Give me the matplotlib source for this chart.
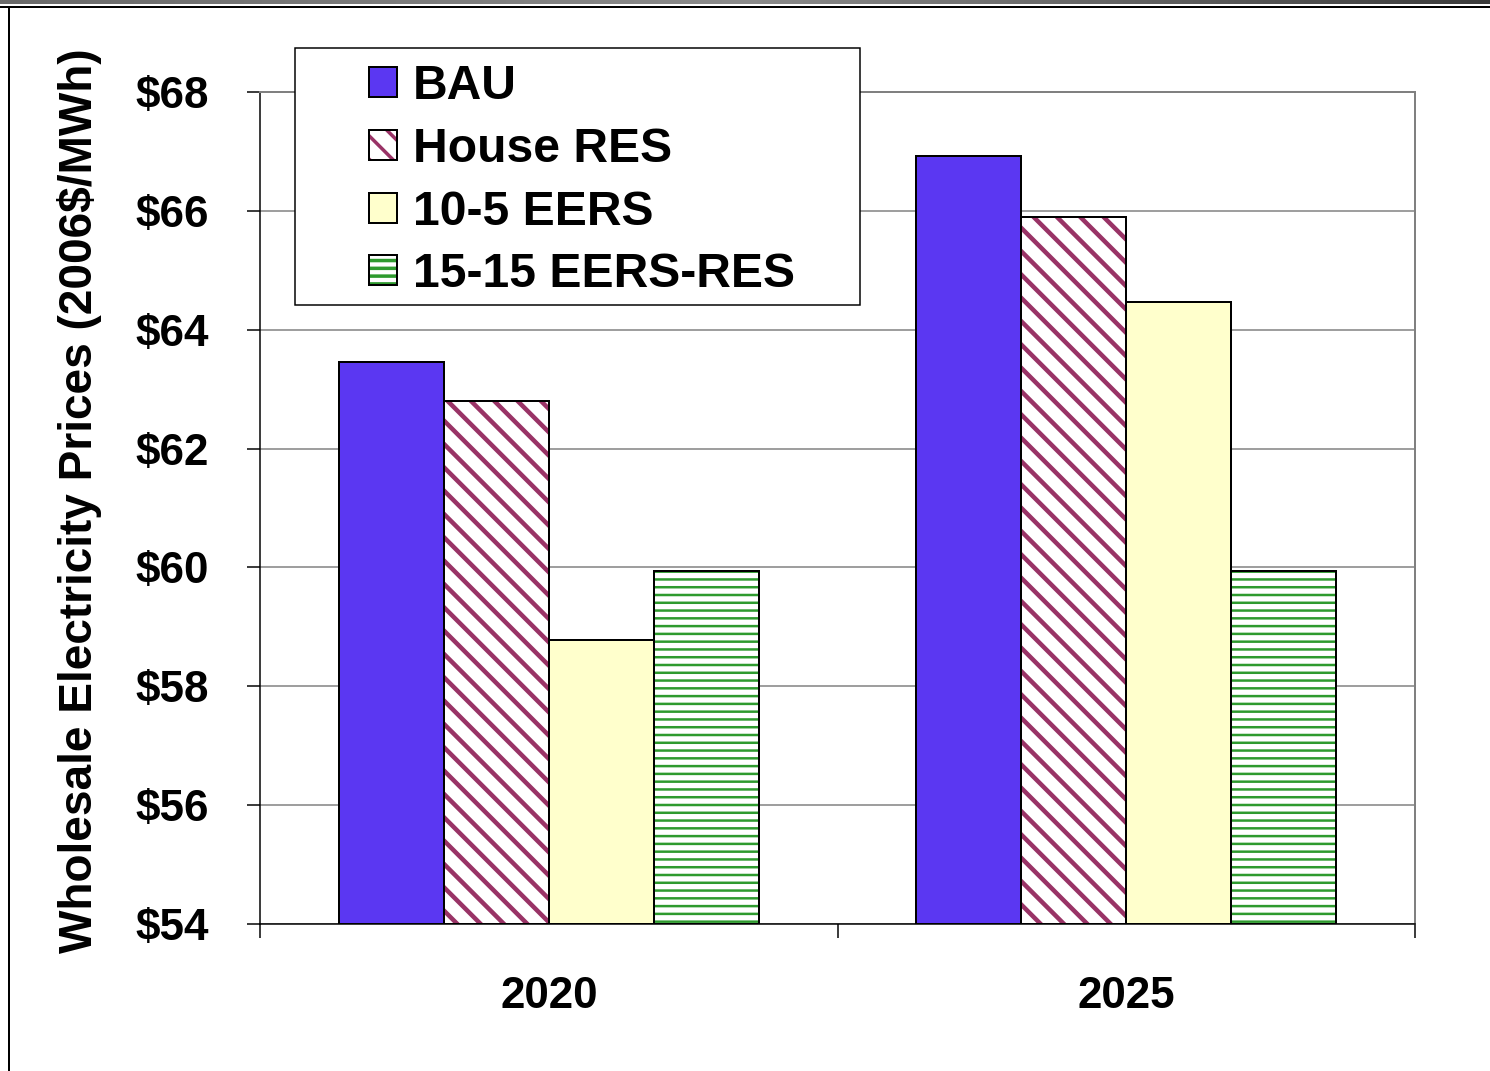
import matplotlib.pyplot as plt
import numpy as np
from matplotlib.patches import Patch, Rectangle
from matplotlib.lines import Line2D
from matplotlib.colors import LinearSegmentedColormap

years = ["2020", "2025"]
scenarios = ["BAU", "House RES", "10-5 EERS", "15-15 EERS-RES"]
bau = [63.46, 66.92]
house_res = [62.80, 65.90]
eers_10_5 = [58.78, 64.47]
eers_res_15_15 = [59.94, 59.94]
y_ticks = [54, 56, 58, 60, 62, 64, 66, 68]

DPI = 140
W, H = 1490, 1071


def pt(px):
    # pixel size -> points at this dpi
    return px * 72 / DPI


plt.rcParams["font.family"] = ["Liberation Sans", "DejaVu Sans"]
plt.rcParams["font.weight"] = "bold"
plt.rcParams["hatch.linewidth"] = pt(3.5)

face = ["#5b37f2", "white", "#ffffcc", "white"]
hatch_col = [None, "#993366", None, "#2e9a2e"]
hatches = [None, "\\\\", None, "---"]
hatch_lw = [0, pt(4.5), 0, pt(2.5)]

fig = plt.figure(figsize=(W / DPI, H / DPI), dpi=DPI)
ax = fig.add_axes([260 / W, 1 - 924 / H, (1415 - 260) / W, (924 - 92) / H])

x = np.arange(len(years))
width = 0.182
base = y_ticks[0]
series = [bau, house_res, eers_10_5, eers_res_15_15]
handles = []
for i, vals in enumerate(series):
    pos = x + (i - 1.5) * width
    heights = np.array(vals) - base
    if hatches[i]:
        with plt.rc_context({"hatch.linewidth": hatch_lw[i]}):
            bars = ax.bar(pos, heights, width, bottom=base, color="white",
                          edgecolor=hatch_col[i], hatch=hatches[i],
                          linewidth=0, zorder=2)
            for b in bars:
                if hasattr(b, "set_hatch_linewidth"):
                    b.set_hatch_linewidth(hatch_lw[i])
            h1 = Patch(facecolor="white", edgecolor=hatch_col[i],
                       hatch=hatches[i], linewidth=0)
            if hasattr(h1, "set_hatch_linewidth"):
                h1.set_hatch_linewidth(hatch_lw[i])
        ax.bar(pos, heights, width, bottom=base, facecolor="none",
               edgecolor="black", linewidth=pt(2), zorder=3)
        h2 = Patch(facecolor="none", edgecolor="black", linewidth=pt(2))
        handles.append((h1, h2))
    else:
        ax.bar(pos, heights, width, bottom=base, facecolor=face[i],
               edgecolor="black", linewidth=pt(2), zorder=3)
        handles.append(Patch(facecolor=face[i], edgecolor="black",
                             linewidth=pt(2)))

ax.set_xlim(-0.5, 1.5)
ax.set_ylim(y_ticks[0], y_ticks[-1])
ax.set_yticks(y_ticks)
ax.set_yticklabels([f"${v}" for v in y_ticks])
ax.yaxis.grid(True, color="#808080", linewidth=pt(1.5))
ax.set_axisbelow(True)
for s in ["top", "right"]:
    ax.spines[s].set_color("#808080")
    ax.spines[s].set_linewidth(pt(2))
for s in ["left", "bottom"]:
    ax.spines[s].set_color("black")
    ax.spines[s].set_linewidth(pt(1.5))

ax.tick_params(axis="y", length=pt(13), width=pt(1.5), pad=pt(38),
               labelsize=pt(44))
ax.set_xticks(x)
ax.set_xticklabels(years)
ax.set_xticks([-0.5, 0.5, 1.5], minor=True)
ax.tick_params(axis="x", which="major", length=0, pad=pt(52),
               labelsize=pt(44))
ax.tick_params(axis="x", which="minor", length=pt(14), width=pt(1.5))

fig.text(80 / W, 1 - 501 / H, "Wholesale Electricity Prices (2006$/MWh)",
         rotation=90, ha="center", va="center", fontsize=pt(46))

# legend box drawn by hand so the padding matches
box = Rectangle((295 / W, 1 - 305 / H), (860 - 295) / W, (305 - 48) / H,
                transform=fig.transFigure, facecolor="white",
                edgecolor="black", linewidth=pt(1.5), zorder=5, clip_on=False)
ax.add_artist(box)
leg = ax.legend(handles, scenarios, loc="upper left",
                bbox_to_anchor=(369 / W, 1 - 64 / H),
                bbox_transform=fig.transFigure, frameon=False,
                fontsize=pt(48), handlelength=0.58, handleheight=0.58,
                handletextpad=0.33, labelspacing=0.37, borderpad=0,
                borderaxespad=0)
leg.set_zorder(6)

# slide frame: gradient strip, black rule, left edge
strip = fig.add_axes([0, 1 - 4 / H, 1, 4 / H])
cmap = LinearSegmentedColormap.from_list("g", ["#6a6a6a", "#8c8c8c", "#3c3c3c"])
strip.imshow(np.linspace(0, 1, 256)[None, :], cmap=cmap, aspect="auto")
strip.axis("off")
fig.add_artist(Line2D([0, 1], [1 - 6.5 / H] * 2, color="black",
                      linewidth=pt(2), transform=fig.transFigure))
fig.add_artist(Line2D([8.5 / W] * 2, [0, 1 - 6.5 / H], color="black",
                      linewidth=pt(2), transform=fig.transFigure))

fig.savefig("out.png", dpi=DPI)
